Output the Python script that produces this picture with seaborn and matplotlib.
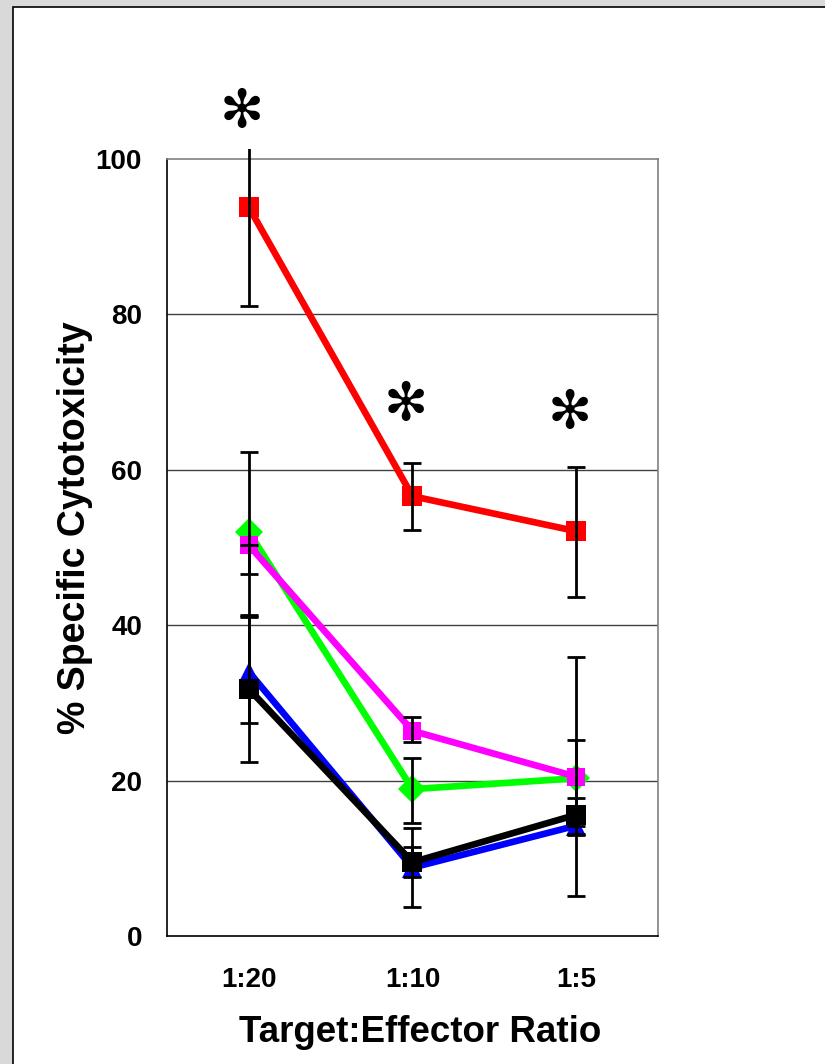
import numpy as np
import pandas as pd
import matplotlib
matplotlib.use("Agg")
import matplotlib.pyplot as plt
import seaborn as sns
from matplotlib.patches import Rectangle
from matplotlib.transforms import Bbox, TransformedBbox

# ---------------- data ----------------
ratios = ["1:20", "1:10", "1:5"]
series_names = ["green", "magenta", "blue", "black", "red"]

green_vals = [52.0, 18.9, 20.3]
magenta_vals = [50.3, 26.4, 20.5]
blue_vals = [34.0, 8.8, 14.2]
black_vals = [31.8, 9.5, 15.6]
red_vals = [93.8, 56.6, 52.1]

# asymmetric errors: [lower], [upper]
green_err = [[10.7, 4.3, 15.2], [10.3, 4.0, 15.6]]
magenta_err = [[3.7, 1.4, 4.7], [0.0, 1.8, 4.7]]
blue_err = [[6.6, 5.1, 1.2], [7.1, 5.1, 0.0]]
black_err = [[9.4, 1.9, 2.5], [9.4, 1.9, 2.2]]
red_err = [[12.7, 4.3, 8.5], [12.7, 4.3, 8.3]]

star_y = [106.0, 68.3, 67.3]

yticks = [0, 20, 40, 60, 80, 100]
xlabel = "Target:Effector Ratio"
ylabel = "% Specific Cytotoxicity"

values = {"green": green_vals, "magenta": magenta_vals, "blue": blue_vals,
          "black": black_vals, "red": red_vals}
errors = {"green": green_err, "magenta": magenta_err, "blue": blue_err,
          "black": black_err, "red": red_err}
colors = {"green": "#00ff00", "magenta": "#ff00ff", "blue": "#0000ff",
          "black": "#000000", "red": "#ff0000"}
markers = {"green": "D", "magenta": "s", "blue": "^", "black": "s", "red": "s"}
msizes = {"green": 14, "magenta": 13, "blue": 14, "black": 15, "red": 14}

rows = []
for name in series_names:
    for i, v in enumerate(values[name]):
        rows.append({"series": name, "x": i, "y": v})
df = pd.DataFrame(rows)

# ---------------- figure ----------------
sns.set_style("white")
plt.rcParams["font.family"] = ["Liberation Sans", "DejaVu Sans"]
plt.rcParams["text.color"] = "black"
plt.rcParams["axes.labelcolor"] = "black"
plt.rcParams["xtick.color"] = "black"
plt.rcParams["ytick.color"] = "black"

fig = plt.figure(figsize=(8.25, 10.64), dpi=100)
fig.patch.set_facecolor("#d9d9d9")
panel = Rectangle((13 / 825, -0.05), 1.1, 1 - 7 / 1064 + 0.05,
                  transform=fig.transFigure, facecolor="white",
                  edgecolor="black", linewidth=1.2, zorder=-5)
fig.patches.append(panel)

ax = fig.add_axes([167 / 825, 1 - 936 / 1064, 491 / 825, 777 / 1064])
ax.set_zorder(2)
ax.set_facecolor("white")

for y in yticks[1:-1]:
    ax.axhline(y, color="#404040", linewidth=1.0, zorder=1)

for zi, name in enumerate(series_names):
    sub = df[df["series"] == name]
    sns.lineplot(data=sub, x="x", y="y", ax=ax, color=colors[name],
                 linewidth=4.8, marker=markers[name], markersize=msizes[name],
                 markeredgewidth=0, markerfacecolor=colors[name],
                 zorder=3 + zi, legend=False, errorbar=None)

clip = TransformedBbox(Bbox([[-0.5, -5], [2.5, 101.3]]), ax.transData)
for name in series_names:
    cont = ax.errorbar(range(len(ratios)), values[name], yerr=errors[name],
                       fmt="none", ecolor="black", elinewidth=2.0,
                       capsize=6.5, capthick=2.0, zorder=10)
    for art in list(cont.lines[1]) + list(cont.lines[2]):
        art.set_clip_on(True)
        art.set_clip_box(clip)

for i, sy in enumerate(star_y):
    ax.text(i - 0.04, sy, "\u273B", ha="center", va="center", fontsize=38,
            family="DejaVu Sans", fontweight="bold", color="black", clip_on=False)

ax.set_xlim(-0.5, 2.5)
ax.set_ylim(0, 100)
ax.set_yticks(yticks)
ax.set_yticklabels([str(t) for t in yticks], fontsize=20, fontweight="bold")
ax.set_xticks(range(len(ratios)))
ax.set_xticklabels(ratios, fontsize=20, fontweight="bold")
ax.set_xticks([-0.5, 0.5, 1.5, 2.5], minor=True)
ax.tick_params(axis="x", which="major", length=0, pad=22)
ax.tick_params(axis="x", which="minor", length=8, width=1.2, direction="out", color="black")
ax.tick_params(axis="y", which="major", length=8, width=1.2, direction="out", color="black", pad=10)

ax.set_xlabel(xlabel, fontsize=26.5, fontweight="bold")
ax.set_ylabel(ylabel, fontsize=27, fontweight="bold")
ax.xaxis.set_label_coords(0.515, -0.102)
ax.yaxis.set_label_coords(-0.150, 0.525)

for side in ["top", "right"]:
    ax.spines[side].set_color("#808080")
    ax.spines[side].set_linewidth(1.2)
for side in ["left", "bottom"]:
    ax.spines[side].set_color("black")
    ax.spines[side].set_linewidth(1.2)

fig.savefig("out.png", dpi=100, facecolor=fig.get_facecolor())
